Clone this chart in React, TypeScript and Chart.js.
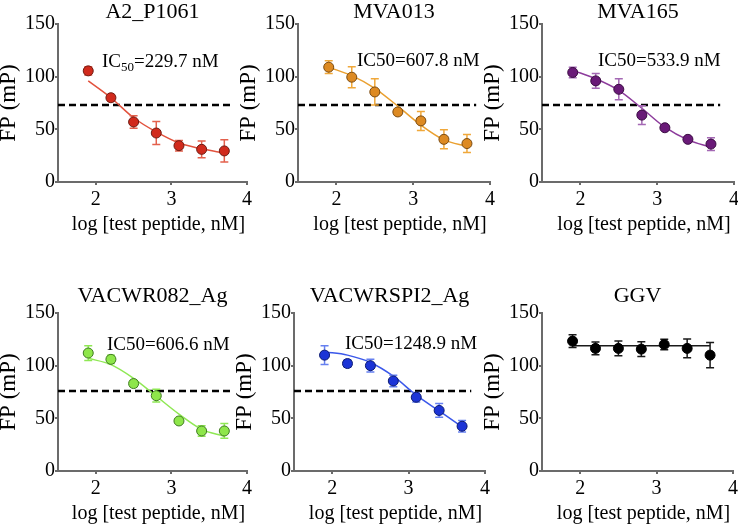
import React, { useEffect, useRef } from "react";
import { Chart, registerables } from "chart.js";

Chart.register(...registerables);

// ---------------- data ----------------
const X_LOG = [1.9, 2.2, 2.5, 2.8, 3.1, 3.4, 3.7];
const X_TICKS = [2, 3, 4];
const Y_TICKS = [0, 50, 100, 150];
const X_MIN = 1.5;
const X_MAX = 4;
const Y_MIN = 0;
const Y_MAX = 150;
const THRESHOLD_X = [1.5, 3.82];

const X_TITLE = "log [test peptide, nM]";
const Y_TITLE = "FP (mP)";

const A2_P1061_FP = [105.5, 80, 57, 46.5, 34.5, 31, 29.5];
const A2_P1061_SD = [4, 3, 6, 11, 5, 8, 10.5];
const A2_P1061_FIT = [96, 80, 61, 47.5, 37, 31.5, 27.5];
const A2_P1061_THRESHOLD = 73;

const MVA013_FP = [109, 99.5, 85.5, 66.5, 58, 40.5, 36.5];
const MVA013_SD = [6, 10, 12.5, 3, 9, 9, 8.5];
const MVA013_FIT = [109, 101, 89, 72, 54, 40, 34];
const MVA013_THRESHOLD = 73;

const MVA165_FP = [104, 96, 88, 63.5, 51.5, 40.5, 36];
const MVA165_SD = [5, 7, 10, 9, 2, 2, 6];
const MVA165_FIT = [106, 98, 87, 70, 52, 40, 33];
const MVA165_THRESHOLD = 73;

const VACWR082_FP = [112, 106, 83, 71.5, 47.5, 38, 38];
const VACWR082_SD = [7, 4, 3, 6, 2, 5, 7];
const VACWR082_FIT = [107, 101, 88, 71, 54, 39.5, 33];
const VACWR082_THRESHOLD = 76;

const VACWRSPI2_FP = [110, 102, 100, 85.5, 70, 57.5, 42.5];
const VACWRSPI2_SD = [9, 3.5, 6, 5.5, 4.5, 6.5, 5.5];
const VACWRSPI2_FIT = [113, 110, 103, 90, 72, 57, 42];
const VACWRSPI2_THRESHOLD = 76;

const GGV_FP = [123.3, 116.4, 116.4, 115.7, 120.1, 116.4, 110];
const GGV_SD = [6, 6, 7, 7, 5, 9, 12];
const GGV_FIT = [119, 119, 119, 119, 119, 119, 119];

type Panel = {
  title: string;
  fp: number[];
  sd: number[];
  fit: number[];
  threshold: number | null;
  ic50: string | null;
  sub: boolean;
  fill: string;
  border: string;
  line: string;
  err: string;
};

const PANELS: Panel[] = [
  { title: "A2_P1061", fp: A2_P1061_FP, sd: A2_P1061_SD, fit: A2_P1061_FIT, threshold: A2_P1061_THRESHOLD, ic50: "229.7 nM", sub: true, fill: "#d12a1c", border: "#6e1b12", line: "#e2523d", err: "#e3604c" },
  { title: "MVA013", fp: MVA013_FP, sd: MVA013_SD, fit: MVA013_FIT, threshold: MVA013_THRESHOLD, ic50: "607.8 nM", sub: false, fill: "#dd8a22", border: "#7a4a10", line: "#eaa030", err: "#f0a83a" },
  { title: "MVA165", fp: MVA165_FP, sd: MVA165_SD, fit: MVA165_FIT, threshold: MVA165_THRESHOLD, ic50: "533.9 nM", sub: false, fill: "#6a1a78", border: "#3a0c42", line: "#8d3c9c", err: "#a468b4" },
  { title: "VACWR082_Ag", fp: VACWR082_FP, sd: VACWR082_SD, fit: VACWR082_FIT, threshold: VACWR082_THRESHOLD, ic50: "606.6 nM", sub: false, fill: "#8ee64a", border: "#3f7a22", line: "#8fe854", err: "#8fe854" },
  { title: "VACWRSPI2_Ag", fp: VACWRSPI2_FP, sd: VACWRSPI2_SD, fit: VACWRSPI2_FIT, threshold: VACWRSPI2_THRESHOLD, ic50: "1248.9 nM", sub: false, fill: "#1c34d6", border: "#0c1a70", line: "#3b58ea", err: "#6680f0" },
  { title: "GGV", fp: GGV_FP, sd: GGV_SD, fit: GGV_FIT, threshold: null, ic50: null, sub: false, fill: "#000000", border: "#000000", line: "#1a1a1a", err: "#1a1a1a" },
];

// ---------------- layout (pixels) ----------------
const AXIS_W = 58;
const PAD_R = 12;
const XSCALE_H = 55;
const LAYOUT = [
  { rowTop: 0, left: 58, top: 24, w: 189, h: 158, titleDy: 12, icDx: 44, icDy: 37 },
  { rowTop: 0, left: 298, top: 24, w: 192, h: 158, titleDy: 12, icDx: 59, icDy: 36 },
  { rowTop: 0, left: 542, top: 24, w: 192, h: 158, titleDy: 12, icDx: 56, icDy: 36 },
  { rowTop: 263, left: 58, top: 313, w: 189, h: 158, titleDy: 16.5, icDx: 49, icDy: 31 },
  { rowTop: 263, left: 294, top: 313, w: 191, h: 158, titleDy: 16.5, icDx: 51, icDy: 30 },
  { rowTop: 263, left: 542, top: 313, w: 191, h: 158, titleDy: 16.5, icDx: 0, icDy: 0 },
];

const FONT = '"Liberation Serif", "Times New Roman", serif';
const AXIS_COLOR = "#6b6b6b";

function PanelChart({ p, l }: { p: Panel; l: (typeof LAYOUT)[number] }) {
  const ref = useRef<HTMLCanvasElement | null>(null);
  const cw = AXIS_W + l.w + PAD_R;
  const ch = l.top - l.rowTop + l.h + XSCALE_H;

  useEffect(() => {
    const canvas = ref.current;
    if (!canvas) return;

    const errorBars = {
      id: "errorBars",
      beforeDatasetDraw(chart: any, args: any) {
        if (args.index !== 0) return;
        const { ctx, scales } = chart;
        const xs = scales.x;
        const ys = scales.y;
        ctx.save();
        ctx.strokeStyle = p.err;
        ctx.lineWidth = 1.5;
        X_LOG.forEach((xv, i) => {
          const x = xs.getPixelForValue(xv);
          const y1 = ys.getPixelForValue(p.fp[i] + p.sd[i]);
          const y2 = ys.getPixelForValue(p.fp[i] - p.sd[i]);
          ctx.beginPath();
          ctx.moveTo(x, y1);
          ctx.lineTo(x, y2);
          ctx.moveTo(x - 4, y1);
          ctx.lineTo(x + 4, y1);
          ctx.moveTo(x - 4, y2);
          ctx.lineTo(x + 4, y2);
          ctx.stroke();
        });
        ctx.restore();
      },
    };

    const texts = {
      id: "texts",
      afterDraw(chart: any) {
        const { ctx, chartArea } = chart;
        const cx = (chartArea.left + chartArea.right) / 2;
        ctx.save();
        ctx.fillStyle = "#000";
        ctx.font = `22px ${FONT}`;
        ctx.textAlign = "center";
        ctx.textBaseline = "middle";
        ctx.fillText(p.title, cx, chartArea.top - l.titleDy);
        ctx.font = `20px ${FONT}`;
        ctx.fillText(X_TITLE, cx + 6, chartArea.bottom + 43);
        ctx.save();
        ctx.translate(9, (chartArea.top + chartArea.bottom) / 2);
        ctx.rotate(-Math.PI / 2);
        ctx.font = `23px ${FONT}`;
        ctx.fillText(Y_TITLE, 0, 0);
        ctx.restore();
        if (p.ic50) {
          ctx.textAlign = "left";
          ctx.textBaseline = "alphabetic";
          let x = chartArea.left + l.icDx;
          const y = chartArea.top + l.icDy + 6;
          ctx.font = `19px ${FONT}`;
          if (p.sub) {
            ctx.fillText("IC", x, y);
            x += ctx.measureText("IC").width;
            ctx.font = `13px ${FONT}`;
            ctx.fillText("50", x, y + 4);
            x += ctx.measureText("50").width;
            ctx.font = `19px ${FONT}`;
            ctx.fillText("=" + p.ic50, x, y);
          } else {
            ctx.fillText("IC50=" + p.ic50, x, y);
          }
        }
        ctx.restore();
      },
    };

    const datasets: any[] = [
      {
        type: "scatter",
        data: X_LOG.map((x, i) => ({ x, y: p.fp[i] })),
        pointRadius: 5,
        pointBackgroundColor: p.fill,
        pointBorderColor: p.border,
        pointBorderWidth: 1,
        showLine: false,
      },
      {
        type: "line",
        data: X_LOG.map((x, i) => ({ x, y: p.fit[i] })),
        borderColor: p.line,
        borderWidth: 1.5,
        pointRadius: 0,
        tension: 0.4,
        cubicInterpolationMode: "monotone",
        fill: false,
      },
    ];
    if (p.threshold !== null) {
      datasets.push({
        type: "line",
        data: THRESHOLD_X.map((x) => ({ x, y: p.threshold })),
        borderColor: "#000",
        borderWidth: 2.5,
        borderDash: [7, 4],
        pointRadius: 0,
        fill: false,
      });
    }

    const chart = new Chart(canvas, {
      type: "scatter",
      data: { datasets },
      options: {
        responsive: false,
        animation: false,
        devicePixelRatio: 1,
        layout: { padding: { top: l.top - l.rowTop, right: PAD_R, left: 0, bottom: 0 } },
        plugins: {
          legend: { display: false },
          tooltip: { enabled: false },
          title: { display: false },
        },
        scales: {
          x: {
            type: "linear",
            min: X_MIN,
            max: X_MAX,
            afterBuildTicks: (s: any) => {
              s.ticks = X_TICKS.map((v) => ({ value: v }));
            },
            afterFit: (s: any) => {
              s.height = XSCALE_H;
              s.paddingLeft = 0;
              s.paddingRight = 0;
            },
            grid: { drawOnChartArea: false, drawTicks: true, tickLength: 3, color: AXIS_COLOR, lineWidth: 2 },
            border: { display: true, color: AXIS_COLOR, width: 2 },
            ticks: { font: { family: FONT, size: 20 }, color: "#000", padding: 3, maxRotation: 0, autoSkip: false },
          },
          y: {
            type: "linear",
            min: Y_MIN,
            max: Y_MAX,
            afterBuildTicks: (s: any) => {
              s.ticks = Y_TICKS.map((v) => ({ value: v }));
            },
            afterFit: (s: any) => {
              s.width = AXIS_W;
              s.paddingTop = 0;
              s.paddingBottom = 0;
            },
            grid: { drawOnChartArea: false, drawTicks: true, tickLength: 3, color: AXIS_COLOR, lineWidth: 2 },
            border: { display: true, color: AXIS_COLOR, width: 2 },
            ticks: { font: { family: FONT, size: 20 }, color: "#000", padding: 0, autoSkip: false },
          },
        },
      } as any,
      plugins: [errorBars, texts],
    } as any);

    return () => chart.destroy();
  }, [p, l]);

  return (
    <canvas
      ref={ref}
      width={cw}
      height={ch}
      style={{ position: "absolute", left: l.left - AXIS_W, top: l.rowTop, width: cw, height: ch }}
    />
  );
}

export default function App() {
  return (
    <div
      style={{
        position: "absolute",
        left: 0,
        top: 0,
        width: 738,
        height: 526,
        overflow: "hidden",
        background: "#fff",
      }}
    >
      {PANELS.map((p, i) => (
        <PanelChart key={p.title} p={p} l={LAYOUT[i]} />
      ))}
    </div>
  );
}
